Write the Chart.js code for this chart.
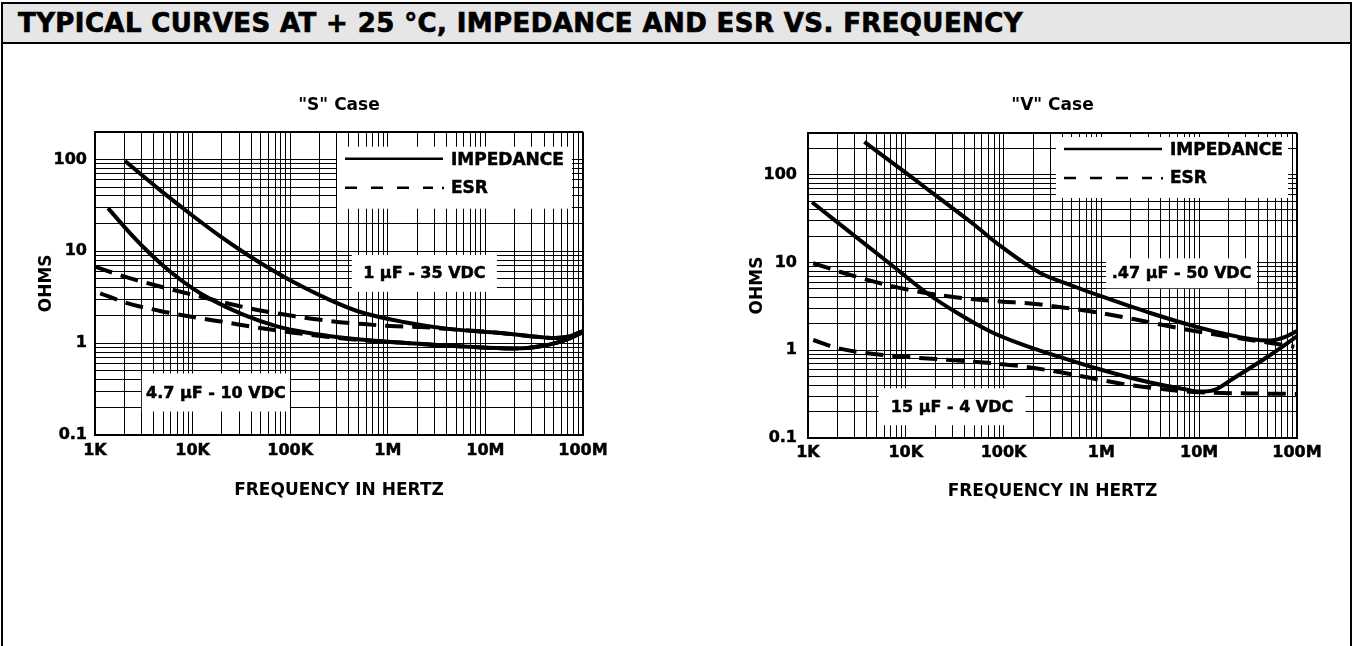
<!DOCTYPE html>
<html>
<head>
<meta charset="utf-8">
<script src="https://cdn.jsdelivr.net/npm/chart.js"></script>
<style>
  body { margin: 0; width: 1353px; height: 646px; overflow: hidden; background: #fff; }
  #frame { position: absolute; left: 1px; top: 2px; width: 1347px; height: 700px; border: 2px solid #000; }
  #head { height: 38px; overflow: hidden; background: #e6e6e6; border-bottom: 2px solid #000;
          padding-left: 15px; font: bold 26px/38px "DejaVu Sans"; letter-spacing: 0.4px; color: #000;
          white-space: nowrap; -webkit-text-stroke: 0.7px #000; }
  .box { position: absolute; top: 80px; width: 620px; height: 440px; }
</style>
</head>
<body>
<div id="frame"><div id="head">TYPICAL CURVES AT + 25 °C, IMPEDANCE AND ESR VS. FREQUENCY</div></div>
<div class="box" style="left:20px"><canvas id="sCase"></canvas></div>
<div class="box" style="left:730px"><canvas id="vCase"></canvas></div>
<script>
// axis labels
const freqTicks = [1e3, 1e4, 1e5, 1e6, 1e7, 1e8];
const freqTickLabels = ['1K', '10K', '100K', '1M', '10M', '100M'];
const ohmTicks = [0.1, 1, 10, 100];
const ohmTickLabels = ['0.1', '1', '10', '100'];
const legendNames = ['IMPEDANCE', 'ESR'];

// "S" case, 1 uF - 35 VDC
const s1Freq = [2.03e3, 4.64e3, 1.01e4, 1.91e4, 3.3e4, 5.79e4, 1.08e5, 2.57e5, 5.22e5, 1.44e6, 4.37e6, 1.43e7, 2.89e7, 5.17e7, 7.36e7, 1e8];
const s1Imp  = [95.8, 46.3, 24.2, 14.6, 9.8, 6.73, 4.62, 2.94, 2.18, 1.7, 1.42, 1.29, 1.19, 1.135, 1.19, 1.35];
const s1EsrFreq = [1e3, 2.13e3, 4.64e3, 1.51e4, 3.3e4, 1.08e5, 2.57e5, 5.65e5, 1.06e6, 2.15e6, 4.37e6, 1.43e7, 2.89e7, 5.17e7, 7.36e7, 1e8];
const s1Esr  = [6.78, 5.2, 4.13, 3.02, 2.47, 1.97, 1.74, 1.61, 1.535, 1.5, 1.42, 1.29, 1.19, 1.135, 1.19, 1.35];
// "S" case, 4.7 uF - 10 VDC
const s47Freq = [1.36e3, 2.13e3, 3.1e3, 5.88e3, 1.01e4, 1.51e4, 3.3e4, 7.34e4, 1.61e5, 2.57e5, 5.22e5, 1.32e6, 5.96e6, 1.95e7, 4.33e7, 7.43e7, 1e8];
const s47Imp  = [29.5, 17.06, 11.2, 6.01, 3.91, 3.03, 2.04, 1.52, 1.28, 1.19, 1.094, 1.015, 0.918, 0.873, 0.953, 1.135, 1.32];
const s47EsrFreq = [1.13e3, 2.13e3, 4.64e3, 1.01e4, 2.25e4, 4.91e4, 1.08e5, 2.49e5, 5.22e5, 1.32e6, 5.96e6, 1.95e7, 4.33e7, 7.43e7, 1e8];
const s47Esr  = [3.48, 2.73, 2.24, 1.92, 1.675, 1.46, 1.3, 1.165, 1.08, 1.015, 0.918, 0.873, 0.953, 1.135, 1.32];

// "V" case, .47 uF - 50 VDC
const v47Freq = [3.77e3, 1.036e4, 2.25e4, 4.9e4, 9.25e4, 2.37e5, 4.81e5, 9.75e5, 3.16e6, 1.03e7, 3.33e7, 5.33e7, 7.59e7, 1e8];
const v47Imp  = [237, 102.4, 53.1, 27.5, 15.5, 7.61, 5.55, 4.16, 2.66, 1.8, 1.345, 1.29, 1.42, 1.66];
const v47EsrFreq = [1.13e3, 3.19e3, 1.036e4, 3.36e4, 9.25e4, 1.87e5, 4.48e5, 9.75e5, 2.12e6, 6.88e6, 2.08e7, 4.21e7, 9.38e7];
const v47Esr  = [9.82, 6.85, 4.93, 4.0, 3.6, 3.42, 3.03, 2.66, 2.27, 1.75, 1.42, 1.26, 1.1];
// "V" case, 15 uF - 4 VDC
const v15Freq = [1.1e3, 6.94e3, 1.66e4, 3.36e4, 7.31e4, 1.59e5, 3e5, 9.75e5, 3.16e6, 6.88e6, 1.03e7, 1.46e7, 2.23e7, 4.97e7, 1e8];
const v15Imp  = [48.7, 9.64, 4.44, 2.66, 1.64, 1.15, 0.908, 0.604, 0.429, 0.362, 0.339, 0.357, 0.477, 0.838, 1.44];
const v15EsrFreq = [1.13e3, 1.9e3, 3.19e3, 1.036e4, 3.36e4, 9.25e4, 1.87e5, 4.48e5, 9.75e5, 2.12e6, 5.06e6, 1.03e7, 3.33e7, 1e8];
const v15Esr  = [1.31, 1.076, 0.957, 0.838, 0.765, 0.698, 0.637, 0.544, 0.459, 0.397, 0.353, 0.332, 0.322, 0.318];

Chart.defaults.font.family = '"DejaVu Sans", sans-serif';
Chart.defaults.color = '#000';

// every 1..9 x 10^n inside the range, for the log grid
function logGrid(min, max) {
    const out = [];
    for (let e = Math.floor(Math.log10(min)); e <= Math.ceil(Math.log10(max)); e++) {
        for (let k = 1; k <= 9; k++) {
            const v = Number((k * Math.pow(10, e)).toPrecision(3));
            if (v >= min && v <= max) out.push(v);
        }
    }
    return out;
}

function tickText(values, labels, v) {
    const i = values.indexOf(v);
    return i >= 0 ? labels[i] : '';
}

// white label boxes and the little legend, drawn over the grid
function notesPlugin(notes, leg) {
    return {
        id: 'notes',
        beforeDatasetsDraw(chart) {
            const { ctx, chartArea: a, scales: { x, y } } = chart;
            ctx.save();
            ctx.textBaseline = 'middle';
            ctx.textAlign = 'center';
            ctx.font = 'bold 16px "DejaVu Sans"';
            ctx.strokeStyle = '#000';
            ctx.lineWidth = 0.5;
            notes.forEach(n => {
                const cx = x.getPixelForValue(n.f), cy = y.getPixelForValue(n.ohm);
                ctx.fillStyle = '#fff';
                ctx.fillRect(cx - n.w / 2, cy - n.h / 2, n.w, n.h);
                ctx.fillStyle = '#000';
                ctx.fillText(n.text, cx, cy + 1);
                ctx.strokeText(n.text, cx, cy + 1);
            });

            const lx = a.right - leg.right - leg.w, ly = a.top + leg.top;
            ctx.fillStyle = '#fff';
            ctx.fillRect(lx, ly, leg.w, leg.h);
            ctx.lineWidth = 2.5;
            ctx.beginPath();
            ctx.moveTo(lx + 8, ly + 12);
            ctx.lineTo(lx + 106, ly + 12);
            ctx.stroke();
            ctx.setLineDash([12, 14]);
            ctx.beginPath();
            ctx.moveTo(lx + 8, ly + 41);
            ctx.lineTo(lx + 96, ly + 41);
            ctx.stroke();
            ctx.setLineDash([]);
            ctx.fillStyle = '#000';
            ctx.fillRect(lx + 105, ly + 40, 2, 2.5);
            ctx.textAlign = 'left';
            ctx.font = 'bold 17px "DejaVu Sans"';
            ctx.lineWidth = 0.5;
            legendNames.forEach((name, i) => {
                ctx.fillText(name, lx + 114, ly + 14 + i * 28);
                ctx.strokeText(name, lx + 114, ly + 14 + i * 28);
            });
            ctx.restore();
        }
    };
}

function makeChart(id, o) {
    const datasets = o.series.map(s => ({
        data: s.freq.map((f, i) => ({ x: f, y: s.ohms[i] })),
        borderColor: '#000',
        borderWidth: 4,
        borderDash: s.esr ? [18, 9] : [],
        borderJoinStyle: 'round',
        pointRadius: 0,
        cubicInterpolationMode: 'monotone',
        fill: false
    }));

    const tickFont = { size: 16, weight: 'bold' };
    const titleFont = { size: 17, weight: 'bold', lineHeight: 1.2 };

    new Chart(document.getElementById(id), {
        type: 'line',
        data: { datasets },
        options: {
            responsive: true,
            maintainAspectRatio: false,
            animation: false,
            layout: { padding: { left: 0, right: o.padRight, top: 0, bottom: 0 } },
            plugins: {
                legend: { display: false },
                tooltip: { enabled: false },
                title: {
                    display: true,
                    text: o.title,
                    fullSize: false,
                    color: '#000',
                    font: titleFont,
                    padding: { top: o.titleTop, bottom: o.titleBottom }
                }
            },
            scales: {
                x: {
                    type: 'logarithmic',
                    min: 1e3,
                    max: 1e8,
                    afterBuildTicks: s => { s.ticks = logGrid(1e3, 1e8).map(v => ({ value: v })); },
                    afterFit: s => { s.height = o.xHeight; },
                    grid: { color: '#000', drawTicks: false, lineWidth: c => (c.tick && c.tick.value >= 1e8 ? 2 : 1) },
                    border: { color: '#000', width: 2 },
                    ticks: {
                        autoSkip: false, maxRotation: 0, minRotation: 0,
                        padding: o.xTickPad, color: '#000', font: tickFont,
                        textStrokeColor: '#000', textStrokeWidth: 0.5,
                        callback: v => tickText(freqTicks, freqTickLabels, v)
                    },
                    title: {
                        display: true, text: 'FREQUENCY IN HERTZ', color: '#000', font: titleFont,
                        padding: { top: 0, bottom: o.xTitlePad }
                    }
                },
                y: {
                    type: 'logarithmic',
                    min: 0.1,
                    max: o.yMax,
                    afterBuildTicks: s => { s.ticks = logGrid(0.1, o.yMax).map(v => ({ value: v })); },
                    afterFit: s => { s.width = o.yWidth; },
                    grid: { color: '#000', drawTicks: false, lineWidth: c => (c.tick && c.tick.value >= o.yMax ? 2 : 1) },
                    border: { color: '#000', width: 2 },
                    ticks: {
                        autoSkip: false, padding: o.yTickPad, color: '#000', font: tickFont,
                        textStrokeColor: '#000', textStrokeWidth: 0.5,
                        callback: v => tickText(ohmTicks, ohmTickLabels, v)
                    },
                    title: {
                        display: true, text: 'OHMS', color: '#000', font: titleFont,
                        padding: { top: o.yTitlePad, bottom: 0 }
                    }
                }
            }
        },
        plugins: [notesPlugin(o.notes, o.legend)]
    });
}

makeChart('sCase', {
    title: '"S" Case',
    series: [
        { freq: s1Freq, ohms: s1Imp },
        { freq: s47Freq, ohms: s47Imp },
        { freq: s1EsrFreq, ohms: s1Esr, esr: true },
        { freq: s47EsrFreq, ohms: s47Esr, esr: true }
    ],
    yMax: 200,
    padRight: 57, yWidth: 75, xHeight: 85,
    xTickPad: 6, xTitlePad: 19, yTickPad: 8, yTitlePad: 16.5,
    titleTop: 15.3, titleBottom: 16,
    notes: [
        { text: '1 µF - 35 VDC', f: 2.37e6, ohm: 5.75, w: 145, h: 37 },
        { text: '4.7 µF - 10 VDC', f: 1.73e4, ohm: 0.29, w: 148, h: 38 }
    ],
    legend: { right: 11, top: 15, w: 235, h: 62 }
});

makeChart('vCase', {
    title: '"V" Case',
    series: [
        { freq: v47Freq, ohms: v47Imp },
        { freq: v15Freq, ohms: v15Imp },
        { freq: v47EsrFreq, ohms: v47Esr, esr: true },
        { freq: v15EsrFreq, ohms: v15Esr, esr: true }
    ],
    yMax: 300,
    padRight: 53, yWidth: 78, xHeight: 82,
    xTickPad: 5, xTitlePad: 18, yTickPad: 11, yTitlePad: 17.8,
    titleTop: 15.8, titleBottom: 16.8,
    notes: [
        { text: '.47 μF - 50 VDC', f: 6.6e6, ohm: 7.55, w: 151, h: 30 },
        { text: '15 μF - 4 VDC', f: 2.97e4, ohm: 0.227, w: 147, h: 37 }
    ],
    legend: { right: 9, top: 4, w: 232, h: 61 }
});
</script>
</body>
</html>
